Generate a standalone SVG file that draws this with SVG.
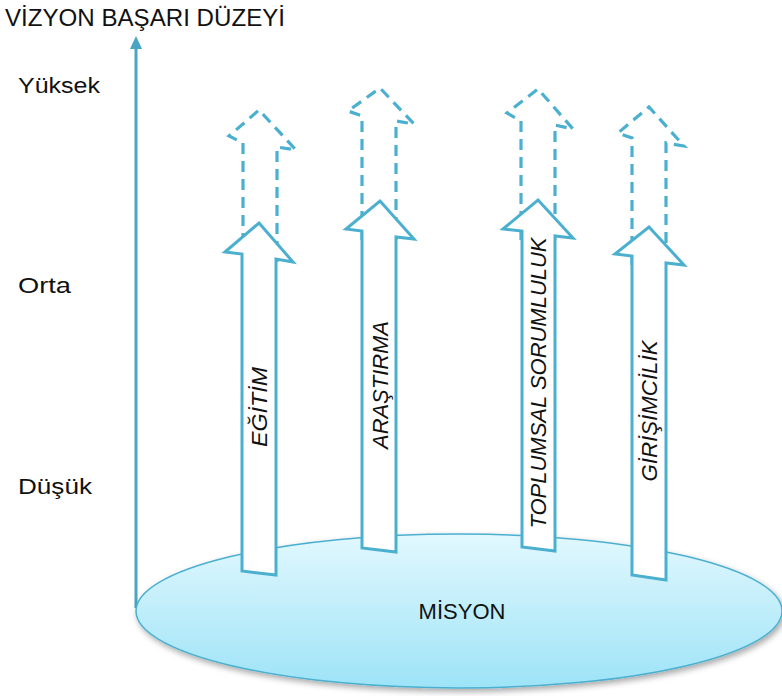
<svg xmlns="http://www.w3.org/2000/svg" width="782" height="696" viewBox="0 0 782 696">
<defs>
<linearGradient id="disc" x1="0" y1="0" x2="0" y2="1">
<stop offset="0" stop-color="#e2f8fe"/>
<stop offset="1" stop-color="#9de3f7"/>
</linearGradient>
<filter id="sh" x="-10%" y="-10%" width="120%" height="130%">
<feGaussianBlur in="SourceAlpha" stdDeviation="3"/>
<feOffset dx="2" dy="3" result="b"/>
<feComponentTransfer><feFuncA type="linear" slope="0.35"/></feComponentTransfer>
<feMerge><feMergeNode/><feMergeNode in="SourceGraphic"/></feMerge>
</filter>
</defs>
<style>
.lbl{font-family:"Liberation Sans",Arial,sans-serif;font-size:22px;fill:#111}
.ttl{font-family:"Liberation Sans",Arial,sans-serif;font-size:23px;fill:#111}
.atx{font-family:"Liberation Sans",Arial,sans-serif;font-size:22px;font-style:italic;fill:#111}
.solid{fill:#fff;stroke:#4bb0cf;stroke-width:3;stroke-linejoin:miter}
.dash{fill:none;stroke:#4bb0cf;stroke-width:3.2;stroke-dasharray:11 7}
</style>
<rect width="782" height="696" fill="#fff"/>

<g id="title">
<text class="ttl" x="5" y="26" textLength="280" lengthAdjust="spacingAndGlyphs">VİZYON BAŞARI DÜZEYİ</text>
</g>
<g id="levels">
<text class="lbl" x="18" y="93" textLength="82" lengthAdjust="spacingAndGlyphs">Yüksek</text>
<text class="lbl" x="18" y="293" textLength="53" lengthAdjust="spacingAndGlyphs">Orta</text>
<text class="lbl" x="18" y="494" textLength="74" lengthAdjust="spacingAndGlyphs">Düşük</text>
</g>

<g id="connectors">
<line x1="136" y1="608" x2="136" y2="46" stroke="#4aa5c4" stroke-width="3"/>
<polygon points="136,36 130,49 142,49" fill="#4aa5c4"/>
</g>

<g id="misyon">
<ellipse cx="459" cy="611" rx="323" ry="77" fill="url(#disc)" stroke="#4bb0cf" stroke-width="1.5" filter="url(#sh)"/>
<text class="lbl" x="462" y="619" text-anchor="middle" font-size="23">MİSYON</text>
</g>

<g id="egitim">
<path class="dash" d="M243,262 L243,143 L229,136 L259,110 L296,150 L277,147 L277,262"/>
<polygon class="solid" points="259,223 293,262 276,259 276,575 242,571 242,254 225,252"/>
<text class="atx" transform="translate(267,407) rotate(-90)" text-anchor="middle" textLength="80" lengthAdjust="spacingAndGlyphs">EĞİTİM</text>
</g>

<g id="arastirma">
<path class="dash" d="M362,240 L362,116 L348,111 L380,88 L414,124 L396,121 L396,240"/>
<polygon class="solid" points="380,201 414,239 396,237 396,552 362,548 362,231 346,229"/>
<text class="atx" transform="translate(388,385) rotate(-90)" text-anchor="middle" textLength="128" lengthAdjust="spacingAndGlyphs">ARAŞTIRMA</text>
</g>

<g id="toplumsal">
<path class="dash" d="M521,240 L521,121 L507,113 L538,89 L573,129 L555,125 L555,240"/>
<polygon class="solid" points="538,200 573,238 555,236 555,551 522,547 522,231 503,229"/>
<text class="atx" transform="translate(546,383) rotate(-90)" text-anchor="middle" textLength="291" lengthAdjust="spacingAndGlyphs">TOPLUMSAL SORUMLULUK</text>
</g>

<g id="girisimcilik">
<path class="dash" d="M632,265 L632,138 L618,133 L649,107 L684,146 L666,143 L666,265"/>
<polygon class="solid" points="649,227 684,265 666,263 666,580 632,575 632,256 615,254"/>
<text class="atx" transform="translate(657,411) rotate(-90)" text-anchor="middle" textLength="141" lengthAdjust="spacingAndGlyphs">GİRİŞİMCİLİK</text>
</g>
</svg>
